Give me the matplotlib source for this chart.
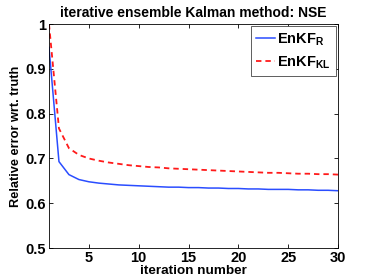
import matplotlib
matplotlib.use("Agg")
import matplotlib.pyplot as plt

# values
iterations = list(range(1, 31))
enkf_r = [0.948, 0.693, 0.664, 0.653, 0.648, 0.645, 0.643, 0.641, 0.640, 0.639,
          0.638, 0.637, 0.636, 0.636, 0.635, 0.635, 0.634, 0.634, 0.633, 0.633,
          0.632, 0.632, 0.631, 0.631, 0.631, 0.630, 0.630, 0.629, 0.629, 0.628]
enkf_kl = [1.000, 0.767, 0.723, 0.708, 0.700, 0.695, 0.691, 0.688, 0.685, 0.683,
           0.681, 0.680, 0.678, 0.677, 0.676, 0.675, 0.674, 0.673, 0.672, 0.671,
           0.670, 0.669, 0.668, 0.668, 0.667, 0.666, 0.666, 0.665, 0.665, 0.664]
xticks = [5, 10, 15, 20, 25, 30]
yticks = [0.5, 0.6, 0.7, 0.8, 0.9, 1.0]
ytick_labels = ['0.5', '0.6', '0.7', '0.8', '0.9', '1']

plt.rcParams['font.family'] = ['Liberation Sans', 'DejaVu Sans']
plt.rcParams['font.weight'] = 'bold'
plt.rcParams['mathtext.fontset'] = 'custom'
plt.rcParams['mathtext.rm'] = 'Liberation Sans:bold'
plt.rcParams['mathtext.it'] = 'Liberation Sans:bold'
plt.rcParams['mathtext.bf'] = 'Liberation Sans:bold'

fig = plt.figure(figsize=(3.74, 2.8), dpi=100)
ax = fig.add_axes([0.131, 0.114, 0.773, 0.8])

ax.plot(iterations, enkf_r, color='#2a4dff', linewidth=1.1,
        label=r'EnKF$_{\mathrm{R}}$')
ax.plot(iterations, enkf_kl, color='#ff1a1a', linewidth=1.3,
        linestyle=(0, (3, 2.2)), label=r'EnKF$_{\mathrm{KL}}$')

ax.set_xlim(1, 30)
ax.set_ylim(0.5, 1.0)
ax.set_xticks(xticks)
ax.set_yticks(yticks)
ax.set_yticklabels(ytick_labels)
ax.tick_params(direction='in', length=3, width=0.6, top=True, right=True,
               labelsize=10.5)
ax.tick_params(axis='x', pad=2)
ax.tick_params(axis='y', pad=2)
for s in ax.spines.values():
    s.set_linewidth(0.6)

ax.set_title('iterative ensemble Kalman method: NSE', fontsize=10,
             fontweight='bold', pad=5)
ax.set_xlabel('iteration number', fontsize=9.7, fontweight='bold', labelpad=0)
ax.set_ylabel('Relative error wrt. truth', fontsize=9.2, fontweight='bold',
              labelpad=3)

leg = ax.legend(loc='upper right', fontsize=10.5, fancybox=False, framealpha=1,
                edgecolor='#444444', handlelength=1.3, handletextpad=0.15,
                borderpad=0.35, labelspacing=0.45, borderaxespad=0.15)
leg.get_frame().set_linewidth(0.6)

fig.savefig('out.png', dpi=100)
